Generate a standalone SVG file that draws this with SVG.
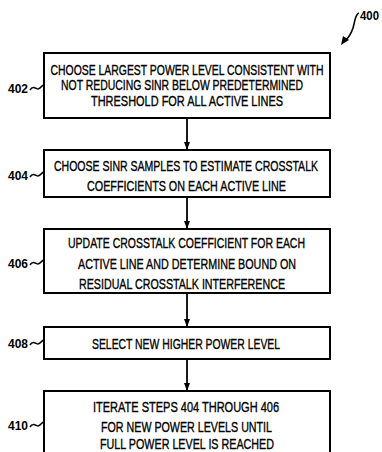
<svg xmlns="http://www.w3.org/2000/svg" width="382" height="452" viewBox="0 0 382 452">
<style>
.box{fill:#fff;stroke:#000;stroke-width:2}
.t{font-family:"Liberation Sans",Arial,sans-serif;font-size:14.5px;fill:#000;stroke:#000;stroke-width:0.35;text-anchor:middle}
.lbl{font-family:"Liberation Sans",Arial,sans-serif;font-size:13.5px;fill:#000;font-weight:bold}
.sq{fill:none;stroke:#000;stroke-width:1.6}
.c{stroke:#000;stroke-width:1.8;fill:none}
</style>
<defs>
<marker id="ah" markerWidth="8" markerHeight="10" refX="7" refY="4" orient="auto" markerUnits="userSpaceOnUse" viewBox="0 0 8 8">
<path d="M0,1 L8,4 L0,7 Z" fill="#000"/>
</marker>
</defs>
<rect width="382" height="452" fill="#fff"/>
<g id="ref400">
<text class="lbl" x="360" y="20" textLength="19" lengthAdjust="spacingAndGlyphs">400</text>
<path class="sq" d="M359,13 C355,14 355,22 353,28 C351,34 349,37 346,40" />
<path d="M341,45 L343,36 L349,40 Z" fill="#000"/>
</g>
<g id="connectors">
<line class="c" x1="187" y1="118" x2="187" y2="149" marker-end="url(#ah)"/>
<line class="c" x1="187" y1="197" x2="187" y2="228" marker-end="url(#ah)"/>
<line class="c" x1="187" y1="293" x2="187" y2="326" marker-end="url(#ah)"/>
<line class="c" x1="187" y1="359" x2="187" y2="390" marker-end="url(#ah)"/>
</g>
<g id="n402">
<rect class="box" x="44" y="53" width="286" height="65"/>
<text class="t" transform="translate(187,74.5) scale(0.75,1)" textLength="364" lengthAdjust="spacingAndGlyphs">CHOOSE LARGEST POWER LEVEL CONSISTENT WITH</text>
<text class="t" transform="translate(182,90) scale(0.75,1)" textLength="322.7" lengthAdjust="spacingAndGlyphs">NOT REDUCING SINR BELOW PREDETERMINED</text>
<text class="t" transform="translate(187,105.5) scale(0.75,1)" textLength="256" lengthAdjust="spacingAndGlyphs">THRESHOLD FOR ALL ACTIVE LINES</text>
<text class="lbl" x="8" y="93" textLength="20" lengthAdjust="spacingAndGlyphs">402</text>
<path class="sq" d="M30,90 C33,85 36,89 38,89 C40,89 41,87 43,85"/>
</g>
<g id="n404">
<rect class="box" x="44" y="150" width="286" height="47"/>
<text class="t" transform="translate(186,170.5) scale(0.75,1)" textLength="352" lengthAdjust="spacingAndGlyphs">CHOOSE SINR SAMPLES TO ESTIMATE CROSSTALK</text>
<text class="t" transform="translate(186.5,190.5) scale(0.75,1)" textLength="265.3" lengthAdjust="spacingAndGlyphs">COEFFICIENTS ON EACH ACTIVE LINE</text>
<text class="lbl" x="8" y="180" textLength="20" lengthAdjust="spacingAndGlyphs">404</text>
<path class="sq" d="M30,177 C33,172 36,176 38,176 C40,176 41,174 43,172"/>
</g>
<g id="n406">
<rect class="box" x="44" y="229" width="286" height="64"/>
<text class="t" transform="translate(186.5,247.5) scale(0.75,1)" textLength="316" lengthAdjust="spacingAndGlyphs">UPDATE CROSSTALK COEFFICIENT FOR EACH</text>
<text class="t" transform="translate(187,268.5) scale(0.75,1)" textLength="290.7" lengthAdjust="spacingAndGlyphs">ACTIVE LINE AND DETERMINE BOUND ON</text>
<text class="t" transform="translate(182,288.5) scale(0.75,1)" textLength="274.7" lengthAdjust="spacingAndGlyphs">RESIDUAL CROSSTALK INTERFERENCE</text>
<text class="lbl" x="8" y="268" textLength="20" lengthAdjust="spacingAndGlyphs">406</text>
<path class="sq" d="M30,265 C33,260 36,264 38,264 C40,264 41,262 43,260"/>
</g>
<g id="n408">
<rect class="box" x="44" y="327" width="286" height="32"/>
<text class="t" transform="translate(186,348.5) scale(0.75,1)" textLength="250.7" lengthAdjust="spacingAndGlyphs">SELECT NEW HIGHER POWER LEVEL</text>
<text class="lbl" x="8" y="348" textLength="20" lengthAdjust="spacingAndGlyphs">408</text>
<path class="sq" d="M30,345 C33,340 36,344 38,344 C40,344 41,342 43,340"/>
</g>
<g id="n410">
<rect class="box" x="44" y="391" width="286" height="70"/>
<text class="t" transform="translate(186,411.5) scale(0.75,1)" textLength="248" lengthAdjust="spacingAndGlyphs">ITERATE STEPS 404 THROUGH 406</text>
<text class="t" transform="translate(186.5,431.5) scale(0.75,1)" textLength="228" lengthAdjust="spacingAndGlyphs">FOR NEW POWER LEVELS UNTIL</text>
<text class="t" style="font-size:14px" transform="translate(187,449) scale(0.75,1)" textLength="232" lengthAdjust="spacingAndGlyphs">FULL POWER LEVEL IS REACHED</text>
<text class="lbl" x="8" y="430" textLength="20" lengthAdjust="spacingAndGlyphs">410</text>
<path class="sq" d="M30,427 C33,422 36,426 38,426 C40,426 41,424 43,422"/>
</g>
</svg>
